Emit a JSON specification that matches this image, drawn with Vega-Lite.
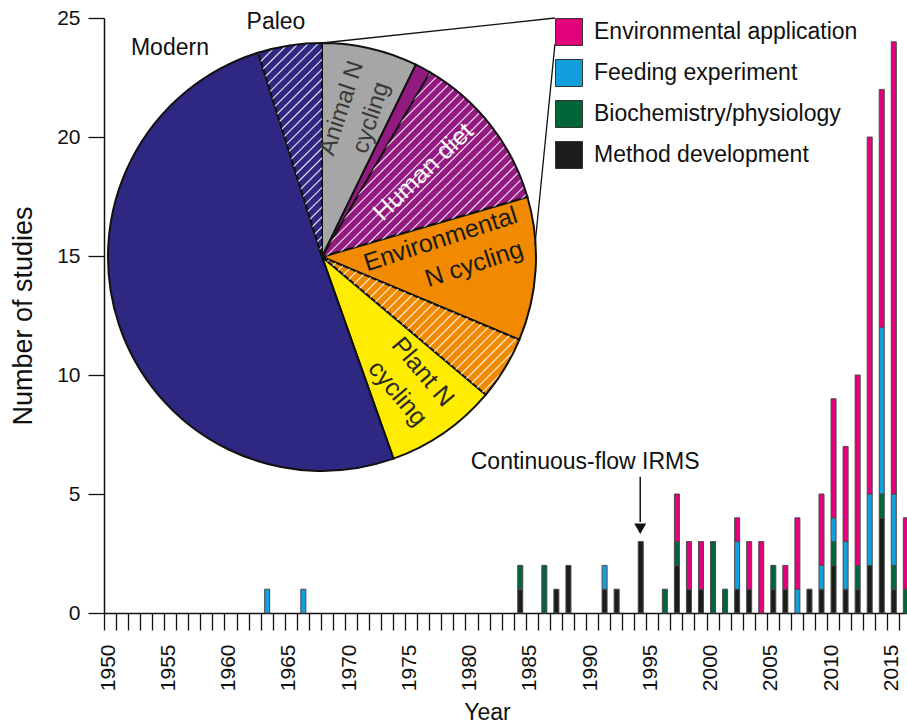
{
  "$schema": "https://vega.github.io/schema/vega-lite/v6.json",
  "width": 803,
  "height": 595,
  "autosize": {"type": "none"},
  "padding": {"left": 104, "top": 18, "right": 0, "bottom": 112},
  "background": "white",
  "config": {
    "font": "Liberation Sans",
    "view": {"stroke": null},
    "axis": {"grid": false, "domainColor": "#111", "tickColor": "#111", "labelColor": "#111", "titleColor": "#111", "titleFontWeight": "normal", "domainWidth": 1.5, "tickWidth": 1.3}
  },
  "params": [
    {"name": "hatch", "value": [
      {"offset":0,"color":"rgba(255,255,255,0.9)"},{"offset":0.004,"color":"rgba(255,255,255,0)"},{"offset":0.021,"color":"rgba(255,255,255,0)"},
      {"offset":0.025,"color":"rgba(255,255,255,0.9)"},{"offset":0.029,"color":"rgba(255,255,255,0)"},{"offset":0.046,"color":"rgba(255,255,255,0)"},
      {"offset":0.05,"color":"rgba(255,255,255,0.9)"},{"offset":0.054,"color":"rgba(255,255,255,0)"},{"offset":0.071,"color":"rgba(255,255,255,0)"},
      {"offset":0.075,"color":"rgba(255,255,255,0.9)"},{"offset":0.079,"color":"rgba(255,255,255,0)"},{"offset":0.096,"color":"rgba(255,255,255,0)"},
      {"offset":0.1,"color":"rgba(255,255,255,0.9)"},{"offset":0.104,"color":"rgba(255,255,255,0)"},{"offset":0.121,"color":"rgba(255,255,255,0)"},
      {"offset":0.125,"color":"rgba(255,255,255,0.9)"},{"offset":0.129,"color":"rgba(255,255,255,0)"},{"offset":0.146,"color":"rgba(255,255,255,0)"},
      {"offset":0.15,"color":"rgba(255,255,255,0.9)"},{"offset":0.154,"color":"rgba(255,255,255,0)"},{"offset":0.171,"color":"rgba(255,255,255,0)"},
      {"offset":0.175,"color":"rgba(255,255,255,0.9)"},{"offset":0.179,"color":"rgba(255,255,255,0)"},{"offset":0.196,"color":"rgba(255,255,255,0)"},
      {"offset":0.2,"color":"rgba(255,255,255,0.9)"},{"offset":0.204,"color":"rgba(255,255,255,0)"},{"offset":0.221,"color":"rgba(255,255,255,0)"},
      {"offset":0.225,"color":"rgba(255,255,255,0.9)"},{"offset":0.229,"color":"rgba(255,255,255,0)"},{"offset":0.246,"color":"rgba(255,255,255,0)"},
      {"offset":0.25,"color":"rgba(255,255,255,0.9)"},{"offset":0.254,"color":"rgba(255,255,255,0)"},{"offset":0.271,"color":"rgba(255,255,255,0)"},
      {"offset":0.275,"color":"rgba(255,255,255,0.9)"},{"offset":0.279,"color":"rgba(255,255,255,0)"},{"offset":0.296,"color":"rgba(255,255,255,0)"},
      {"offset":0.3,"color":"rgba(255,255,255,0.9)"},{"offset":0.304,"color":"rgba(255,255,255,0)"},{"offset":0.321,"color":"rgba(255,255,255,0)"},
      {"offset":0.325,"color":"rgba(255,255,255,0.9)"},{"offset":0.329,"color":"rgba(255,255,255,0)"},{"offset":0.346,"color":"rgba(255,255,255,0)"},
      {"offset":0.35,"color":"rgba(255,255,255,0.9)"},{"offset":0.354,"color":"rgba(255,255,255,0)"},{"offset":0.371,"color":"rgba(255,255,255,0)"},
      {"offset":0.375,"color":"rgba(255,255,255,0.9)"},{"offset":0.379,"color":"rgba(255,255,255,0)"},{"offset":0.396,"color":"rgba(255,255,255,0)"},
      {"offset":0.4,"color":"rgba(255,255,255,0.9)"},{"offset":0.404,"color":"rgba(255,255,255,0)"},{"offset":0.421,"color":"rgba(255,255,255,0)"},
      {"offset":0.425,"color":"rgba(255,255,255,0.9)"},{"offset":0.429,"color":"rgba(255,255,255,0)"},{"offset":0.446,"color":"rgba(255,255,255,0)"},
      {"offset":0.45,"color":"rgba(255,255,255,0.9)"},{"offset":0.454,"color":"rgba(255,255,255,0)"},{"offset":0.471,"color":"rgba(255,255,255,0)"},
      {"offset":0.475,"color":"rgba(255,255,255,0.9)"},{"offset":0.479,"color":"rgba(255,255,255,0)"},{"offset":0.496,"color":"rgba(255,255,255,0)"},
      {"offset":0.5,"color":"rgba(255,255,255,0.9)"},{"offset":0.504,"color":"rgba(255,255,255,0)"},{"offset":0.521,"color":"rgba(255,255,255,0)"},
      {"offset":0.525,"color":"rgba(255,255,255,0.9)"},{"offset":0.529,"color":"rgba(255,255,255,0)"},{"offset":0.546,"color":"rgba(255,255,255,0)"},
      {"offset":0.55,"color":"rgba(255,255,255,0.9)"},{"offset":0.554,"color":"rgba(255,255,255,0)"},{"offset":0.571,"color":"rgba(255,255,255,0)"},
      {"offset":0.575,"color":"rgba(255,255,255,0.9)"},{"offset":0.579,"color":"rgba(255,255,255,0)"},{"offset":0.596,"color":"rgba(255,255,255,0)"},
      {"offset":0.6,"color":"rgba(255,255,255,0.9)"},{"offset":0.604,"color":"rgba(255,255,255,0)"},{"offset":0.621,"color":"rgba(255,255,255,0)"},
      {"offset":0.625,"color":"rgba(255,255,255,0.9)"},{"offset":0.629,"color":"rgba(255,255,255,0)"},{"offset":0.646,"color":"rgba(255,255,255,0)"},
      {"offset":0.65,"color":"rgba(255,255,255,0.9)"},{"offset":0.654,"color":"rgba(255,255,255,0)"},{"offset":0.671,"color":"rgba(255,255,255,0)"},
      {"offset":0.675,"color":"rgba(255,255,255,0.9)"},{"offset":0.679,"color":"rgba(255,255,255,0)"},{"offset":0.696,"color":"rgba(255,255,255,0)"},
      {"offset":0.7,"color":"rgba(255,255,255,0.9)"},{"offset":0.704,"color":"rgba(255,255,255,0)"},{"offset":0.721,"color":"rgba(255,255,255,0)"},
      {"offset":0.725,"color":"rgba(255,255,255,0.9)"},{"offset":0.729,"color":"rgba(255,255,255,0)"},{"offset":0.746,"color":"rgba(255,255,255,0)"},
      {"offset":0.75,"color":"rgba(255,255,255,0.9)"},{"offset":0.754,"color":"rgba(255,255,255,0)"},{"offset":0.771,"color":"rgba(255,255,255,0)"},
      {"offset":0.775,"color":"rgba(255,255,255,0.9)"},{"offset":0.779,"color":"rgba(255,255,255,0)"},{"offset":0.796,"color":"rgba(255,255,255,0)"},
      {"offset":0.8,"color":"rgba(255,255,255,0.9)"},{"offset":0.804,"color":"rgba(255,255,255,0)"},{"offset":0.821,"color":"rgba(255,255,255,0)"},
      {"offset":0.825,"color":"rgba(255,255,255,0.9)"},{"offset":0.829,"color":"rgba(255,255,255,0)"},{"offset":0.846,"color":"rgba(255,255,255,0)"},
      {"offset":0.85,"color":"rgba(255,255,255,0.9)"},{"offset":0.854,"color":"rgba(255,255,255,0)"},{"offset":0.871,"color":"rgba(255,255,255,0)"},
      {"offset":0.875,"color":"rgba(255,255,255,0.9)"},{"offset":0.879,"color":"rgba(255,255,255,0)"},{"offset":0.896,"color":"rgba(255,255,255,0)"},
      {"offset":0.9,"color":"rgba(255,255,255,0.9)"},{"offset":0.904,"color":"rgba(255,255,255,0)"},{"offset":0.921,"color":"rgba(255,255,255,0)"},
      {"offset":0.925,"color":"rgba(255,255,255,0.9)"},{"offset":0.929,"color":"rgba(255,255,255,0)"},{"offset":0.946,"color":"rgba(255,255,255,0)"},
      {"offset":0.95,"color":"rgba(255,255,255,0.9)"},{"offset":0.954,"color":"rgba(255,255,255,0)"},{"offset":0.971,"color":"rgba(255,255,255,0)"},
      {"offset":0.975,"color":"rgba(255,255,255,0.9)"},{"offset":0.979,"color":"rgba(255,255,255,0)"},{"offset":0.996,"color":"rgba(255,255,255,0)"},
      {"offset":1,"color":"rgba(255,255,255,0.9)"}
    ]}
  ],
  "datasets": {
    "studies": [
      {"year":"1963","category":"Feeding experiment","count":1},
      {"year":"1966","category":"Feeding experiment","count":1},
      {"year":"1984","category":"Method development","count":1},
      {"year":"1984","category":"Biochemistry/physiology","count":1},
      {"year":"1986","category":"Biochemistry/physiology","count":2},
      {"year":"1987","category":"Method development","count":1},
      {"year":"1988","category":"Method development","count":2},
      {"year":"1991","category":"Method development","count":1},
      {"year":"1991","category":"Feeding experiment","count":1},
      {"year":"1992","category":"Method development","count":1},
      {"year":"1994","category":"Method development","count":3},
      {"year":"1996","category":"Biochemistry/physiology","count":1},
      {"year":"1997","category":"Method development","count":2},
      {"year":"1997","category":"Biochemistry/physiology","count":1},
      {"year":"1997","category":"Environmental application","count":2},
      {"year":"1998","category":"Method development","count":1},
      {"year":"1998","category":"Environmental application","count":2},
      {"year":"1999","category":"Method development","count":1},
      {"year":"1999","category":"Environmental application","count":2},
      {"year":"2000","category":"Biochemistry/physiology","count":3},
      {"year":"2001","category":"Biochemistry/physiology","count":1},
      {"year":"2002","category":"Method development","count":1},
      {"year":"2002","category":"Feeding experiment","count":2},
      {"year":"2002","category":"Environmental application","count":1},
      {"year":"2003","category":"Method development","count":1},
      {"year":"2003","category":"Environmental application","count":2},
      {"year":"2004","category":"Environmental application","count":3},
      {"year":"2005","category":"Method development","count":1},
      {"year":"2005","category":"Biochemistry/physiology","count":1},
      {"year":"2006","category":"Method development","count":1},
      {"year":"2006","category":"Environmental application","count":1},
      {"year":"2007","category":"Feeding experiment","count":1},
      {"year":"2007","category":"Environmental application","count":3},
      {"year":"2008","category":"Method development","count":1},
      {"year":"2009","category":"Method development","count":1},
      {"year":"2009","category":"Feeding experiment","count":1},
      {"year":"2009","category":"Environmental application","count":3},
      {"year":"2010","category":"Method development","count":2},
      {"year":"2010","category":"Biochemistry/physiology","count":1},
      {"year":"2010","category":"Feeding experiment","count":1},
      {"year":"2010","category":"Environmental application","count":5},
      {"year":"2011","category":"Method development","count":1},
      {"year":"2011","category":"Feeding experiment","count":2},
      {"year":"2011","category":"Environmental application","count":4},
      {"year":"2012","category":"Method development","count":1},
      {"year":"2012","category":"Biochemistry/physiology","count":1},
      {"year":"2012","category":"Environmental application","count":8},
      {"year":"2013","category":"Method development","count":2},
      {"year":"2013","category":"Feeding experiment","count":3},
      {"year":"2013","category":"Environmental application","count":15},
      {"year":"2014","category":"Method development","count":4},
      {"year":"2014","category":"Biochemistry/physiology","count":1},
      {"year":"2014","category":"Feeding experiment","count":7},
      {"year":"2014","category":"Environmental application","count":10},
      {"year":"2015","category":"Method development","count":1},
      {"year":"2015","category":"Biochemistry/physiology","count":1},
      {"year":"2015","category":"Feeding experiment","count":3},
      {"year":"2015","category":"Environmental application","count":19},
      {"year":"2016","category":"Biochemistry/physiology","count":1},
      {"year":"2016","category":"Environmental application","count":3}
    ],
    "pie": [
      {"slice":"Animal N cycling","studies":6},
      {"slice":"Human diet (modern)","studies":1},
      {"slice":"Human diet (paleo)","studies":10},
      {"slice":"Environmental N cycling (modern)","studies":9},
      {"slice":"Environmental N cycling (paleo)","studies":4},
      {"slice":"Plant N cycling","studies":7},
      {"slice":"Food web (modern)","studies":42},
      {"slice":"Food web (paleo)","studies":4}
    ]
  },
  "layer": [
    {
      "data": {"name": "studies"},
      "transform": [
        {"calculate": "indexof(['Method development', 'Biochemistry/physiology', 'Feeding experiment', 'Environmental application'], datum.category)", "as": "stack_rank"}
      ],
      "mark": {"type": "bar", "width": {"band": 0.5}, "stroke": "#4a4a4a", "strokeWidth": 1},
      "encoding": {
        "x": {
          "field": "year", "timeUnit": "utcyear", "type": "temporal",
          "scale": {"type": "utc", "nice": false, "domain": [{"year": 1950, "utc": true}, {"year": 2016, "month": 8, "date": 21, "utc": true}]},
          "axis": {
            "title": "Year", "tickCount": {"interval": "year", "step": 1},
            "labelExpr": "utcyear(datum.value) % 5 === 0 ? utcFormat(datum.value, '%Y') : ''",
            "labelAngle": -90, "labelFontSize": 21, "labelPadding": 14, "labelOffset": 4, "tickSize": 17,
            "labelOverlap": false, "labelFlush": false,
            "titleFontSize": 23, "titleX": 383, "titlePadding": 11
          }
        },
        "y": {
          "field": "count", "type": "quantitative", "stack": "zero",
          "scale": {"domain": [0, 25], "nice": false},
          "axis": {"title": "Number of studies", "values": [0, 5, 10, 15, 20, 25], "tickSize": 16, "labelFontSize": 21, "labelPadding": 8, "titleFontSize": 27, "titlePadding": 19}
        },
        "order": {"field": "stack_rank", "type": "quantitative", "sort": "ascending"},
        "color": {
          "field": "category", "type": "nominal",
          "sort": ["Environmental application", "Feeding experiment", "Biochemistry/physiology", "Method development"],
          "scale": {
            "domain": ["Environmental application", "Feeding experiment", "Biochemistry/physiology", "Method development"],
            "range": ["#e3007b", "#139fdc", "#00663a", "#1c1c1a"]
          },
          "legend": {
            "title": null, "orient": "none", "legendX": 451, "legendY": 0,
            "symbolType": "square", "symbolSize": 729, "symbolStrokeColor": "#333", "symbolStrokeWidth": 1,
            "symbolOpacity": 1, "labelFontSize": 23, "labelColor": "#111", "labelOffset": 11,
            "rowPadding": 9, "padding": 0, "labelLimit": 400
          }
        }
      }
    },
    {
      "data": {"name": "pie"},
      "transform": [
        {"calculate": "indexof(['Animal N cycling', 'Human diet (modern)', 'Human diet (paleo)', 'Environmental N cycling (modern)', 'Environmental N cycling (paleo)', 'Plant N cycling', 'Food web (modern)', 'Food web (paleo)'], datum.slice)", "as": "slice_rank"}
      ],
      "mark": {"type": "arc", "outerRadius": 214, "stroke": "#111", "strokeWidth": 2},
      "encoding": {
        "theta": {"field": "studies", "type": "quantitative", "stack": true},
        "order": {"field": "slice_rank", "type": "quantitative", "sort": "ascending"},
        "fill": {
          "field": "slice", "type": "nominal",
          "scale": {
            "domain": ["Animal N cycling", "Human diet (modern)", "Human diet (paleo)", "Environmental N cycling (modern)", "Environmental N cycling (paleo)", "Plant N cycling", "Food web (modern)", "Food web (paleo)"],
            "range": ["#a6a6a6", "#931a80", "#931a80", "#f18a00", "#f18a00", "#ffec00", "#2e2883", "#2e2883"]
          },
          "legend": null
        },
        "x": {"datum": {"year": 1968, "month": 2, "date": 3, "utc": true}, "type": "temporal"},
        "y": {"datum": 14.96, "type": "quantitative"}
      }
    },
    {
      "data": {"name": "pie"},
      "transform": [
        {"calculate": "indexof(['Animal N cycling', 'Human diet (modern)', 'Human diet (paleo)', 'Environmental N cycling (modern)', 'Environmental N cycling (paleo)', 'Plant N cycling', 'Food web (modern)', 'Food web (paleo)'], datum.slice)", "as": "slice_rank"}
      ],
      "mark": {"type": "arc", "outerRadius": 213, "strokeWidth": 0},
      "encoding": {
        "theta": {"field": "studies", "type": "quantitative", "stack": true},
        "order": {"field": "slice_rank", "type": "quantitative", "sort": "ascending"},
        "fill": {
          "field": "slice", "type": "nominal",
          "scale": {
            "domain": ["Animal N cycling", "Human diet (modern)", "Human diet (paleo)", "Environmental N cycling (modern)", "Environmental N cycling (paleo)", "Plant N cycling", "Food web (modern)", "Food web (paleo)"],
            "range": [
              "rgba(255,255,255,0)", "rgba(255,255,255,0)",
              {"expr": "{gradient: 'linear', x1: 0, y1: 0, x2: 1.0665, y2: 0.9585, stops: hatch}"},
              "rgba(255,255,255,0)",
              {"expr": "{gradient: 'linear', x1: 0, y1: 0, x2: 1.3485, y2: 0.9425, stops: hatch}"},
              "rgba(255,255,255,0)", "rgba(255,255,255,0)",
              {"expr": "{gradient: 'linear', x1: 0, y1: 0, x2: 0.5053, y2: 1.7, stops: hatch}"}
            ]
          },
          "legend": null
        },
        "x": {"datum": {"year": 1968, "month": 2, "date": 3, "utc": true}, "type": "temporal"},
        "y": {"datum": 14.96, "type": "quantitative"}
      }
    },
    {
      "data": {"values": [{}]},
      "mark": {"type": "rule", "color": "#111", "strokeWidth": 1.3},
      "encoding": {
        "x": {"datum": {"year": 1968, "month": 2, "date": 3, "utc": true}, "type": "temporal"},
        "y": {"datum": 23.95, "type": "quantitative"},
        "x2": {"datum": {"year": 1987, "month": 6, "date": 4, "utc": true}},
        "y2": {"datum": 25}
      }
    },
    {
      "data": {"values": [{}]},
      "mark": {"type": "rule", "color": "#111", "strokeWidth": 1.3},
      "encoding": {
        "x": {"datum": {"year": 1987, "month": 6, "date": 4, "utc": true}, "type": "temporal"},
        "y": {"datum": 23.9, "type": "quantitative"},
        "x2": {"datum": {"year": 1985, "month": 10, "date": 7, "utc": true}},
        "y2": {"datum": 15.46}
      }
    },
    {
      "data": {"values": [{}]},
      "mark": {"type": "text", "text": "Modern", "fontSize": 23, "color": "#111", "align": "center", "baseline": "middle"},
      "encoding": {
        "x": {"datum": {"year": 1955, "month": 6, "date": 22, "utc": true}, "type": "temporal"},
        "y": {"datum": 23.74, "type": "quantitative"}
      }
    },
    {
      "data": {"values": [{}]},
      "mark": {"type": "text", "text": "Paleo", "fontSize": 23, "color": "#111", "align": "center", "baseline": "middle"},
      "encoding": {
        "x": {"datum": {"year": 1964, "month": 4, "date": 9, "utc": true}, "type": "temporal"},
        "y": {"datum": 24.83, "type": "quantitative"}
      }
    },
    {
      "data": {"values": [{}]},
      "mark": {"type": "text", "text": ["Animal N", "cycling"], "fontSize": 24, "lineHeight": 31, "angle": 288, "color": "#3a3a3a", "align": "center", "baseline": "middle"},
      "encoding": {
        "x": {"datum": {"year": 1969, "month": 9, "date": 22, "utc": true}, "type": "temporal"},
        "y": {"datum": 21.21, "type": "quantitative"}
      }
    },
    {
      "data": {"values": [{}]},
      "mark": {"type": "text", "text": "Human diet", "fontSize": 25, "angle": 316, "color": "white", "align": "center", "baseline": "middle"},
      "encoding": {
        "x": {"datum": {"year": 1976, "month": 6, "date": 29, "utc": true}, "type": "temporal"},
        "y": {"datum": 18.54, "type": "quantitative"}
      }
    },
    {
      "data": {"values": [{}]},
      "mark": {"type": "text", "text": "Environmental", "fontSize": 25, "angle": 342, "color": "#1a1a1a", "align": "center", "baseline": "middle"},
      "encoding": {
        "x": {"datum": {"year": 1977, "month": 12, "date": 6, "utc": true}, "type": "temporal"},
        "y": {"datum": 15.71, "type": "quantitative"}
      }
    },
    {
      "data": {"values": [{}]},
      "mark": {"type": "text", "text": "N cycling", "fontSize": 25, "angle": 342, "color": "#1a1a1a", "align": "center", "baseline": "middle"},
      "encoding": {
        "x": {"datum": {"year": 1980, "month": 9, "date": 14, "utc": true}, "type": "temporal"},
        "y": {"datum": 14.66, "type": "quantitative"}
      }
    },
    {
      "data": {"values": [{}]},
      "mark": {"type": "text", "text": ["Plant N", "cycling"], "fontSize": 25, "lineHeight": 33, "angle": 50, "color": "#2a2a2a", "align": "center", "baseline": "middle"},
      "encoding": {
        "x": {"datum": {"year": 1976, "month": 6, "date": 21, "utc": true}, "type": "temporal"},
        "y": {"datum": 10.13, "type": "quantitative"}
      }
    },
    {
      "data": {"values": [{}]},
      "mark": {"type": "text", "text": "Continuous-flow IRMS", "fontSize": 23, "color": "#111", "align": "center", "baseline": "middle"},
      "encoding": {
        "x": {"datum": {"year": 1989, "month": 12, "date": 6, "utc": true}, "type": "temporal"},
        "y": {"datum": 6.34, "type": "quantitative"}
      }
    },
    {
      "data": {"values": [{}]},
      "mark": {"type": "rule", "color": "#111", "strokeWidth": 1.5},
      "encoding": {
        "x": {"datum": {"year": 1994, "month": 7, "date": 2, "utc": true}, "type": "temporal"},
        "y": {"datum": 5.73, "type": "quantitative"},
        "y2": {"datum": 3.82}
      }
    },
    {
      "data": {"values": [{}]},
      "mark": {"type": "point", "shape": "triangle-down", "size": 144, "filled": true, "color": "#111", "opacity": 1},
      "encoding": {
        "x": {"datum": {"year": 1994, "month": 7, "date": 2, "utc": true}, "type": "temporal"},
        "y": {"datum": 3.54, "type": "quantitative"}
      }
    }
  ],
  "resolve": {"scale": {"fill": "independent"}}
}
